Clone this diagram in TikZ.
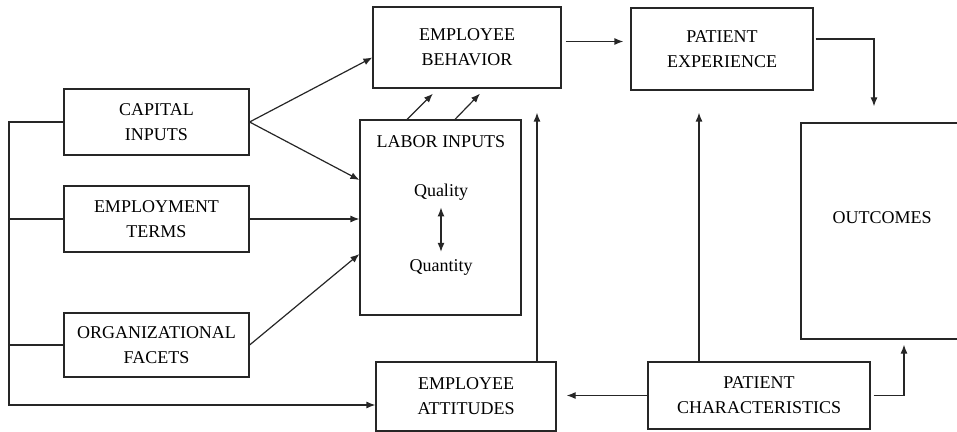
\documentclass[tikz,border=0pt]{standalone}
\usepackage{fontspec}
\setmainfont{Liberation Serif}
\usetikzlibrary{arrows.meta}
\begin{document}
\begin{tikzpicture}[
        x=0.5pt, y=-0.5pt,
        line width=0.6pt,
        font=\fontsize{9}{12.5}\selectfont,
        >={Latex[length=4.5pt,width=3.5pt]}
    ]
    \tikzset{
        blockbox/.style = {rectangle, draw=black!85, align=center, inner sep=0pt},
        link/.style = {draw=black!85, ->},
    }
    \useasboundingbox (0,0) rectangle (957,432);
    \node[blockbox,minimum width=92.5pt,minimum height=33pt] (cap) at (156.5,122) {CAPITAL\\INPUTS};
    \node[blockbox,minimum width=92.5pt,minimum height=33pt] (emp) at (156.5,219) {EMPLOYMENT\\TERMS};
    \node[blockbox,minimum width=92.5pt,minimum height=32pt] (org) at (156.5,345) {ORGANIZATIONAL\\FACETS};
    \node[blockbox,minimum width=94pt,minimum height=40.5pt] (beh) at (467,47.5) {EMPLOYEE\\BEHAVIOR};
    \node[blockbox,minimum width=80.5pt,minimum height=97.5pt] (lab) at (440.5,217.5) {};
    \node (labtitle) at (441,142) {LABOR INPUTS};
    \node (qual) at (441,192) {Quality};
    \node (quant) at (441,267) {Quantity};
    \node[blockbox,minimum width=90pt,minimum height=34.5pt] (att) at (466,396.5) {EMPLOYEE\\ATTITUDES};
    \node[blockbox,minimum width=91pt,minimum height=41pt] (exp) at (722,49) {PATIENT\\EXPERIENCE};
    \node[blockbox,minimum width=84.5pt,minimum height=108pt] (out) at (885.5,231) {};
    \node (outtitle) at (882,218) {OUTCOMES};
    \node[blockbox,minimum width=111pt,minimum height=33.5pt] (pc) at (759,395.5) {PATIENT\\CHARACTERISTICS};

    \coordinate (trunktop) at (9,122);
    \coordinate (trunkbot) at (9,405);
    \draw[link] (cap.west) -- (trunktop) -- (trunkbot) -- (trunkbot -| att.west);
    \draw[draw=black!85] (emp.west) -- (emp.west -| trunktop);
    \draw[draw=black!85] (org.west) -- (org.west -| trunktop);

    \draw[link] (cap.east) -- ([yshift=-5pt]beh.west);
    \draw[link] (cap.east) -- ([yshift=18.75pt]lab.west);
    \draw[link] (emp.east) -- (emp.east -| lab.west);
    \draw[link] (org.east) -- ([yshift=-18.25pt]lab.west);
    \draw[link] ([xshift=-16.75pt]lab.north) -- ([xshift=-17pt,yshift=-2.5pt]beh.south);
    \draw[link] ([xshift=7.25pt]lab.north) -- ([xshift=6.5pt,yshift=-2.5pt]beh.south);
    \draw[link, shorten >=12pt] ([xshift=35.5pt]att.north) coordinate (attup) -- (attup |- beh.south);
    \draw[<->, draw=black!85] (qual) -- (quant);

    \draw[link, shorten <=2pt, shorten >=3.5pt] ([yshift=3pt]beh.east) coordinate (behout) -- (behout -| exp.west);
    \draw[link, shorten <=1pt, shorten >=8pt] ([yshift=5pt]exp.east) -| ([xshift=-5.75pt]out.north);
    \draw[link, shorten >=5pt] (pc.west) -- (pc.west -| att.east);
    \draw[link, shorten >=11pt] ([xshift=-30pt]pc.north) coordinate (pcup) -- (pcup |- exp.south);
    \draw[link, shorten <=1.5pt, shorten >=2.5pt] (pc.east) -| ([xshift=9.25pt]out.south);
\end{tikzpicture}
\end{document}
